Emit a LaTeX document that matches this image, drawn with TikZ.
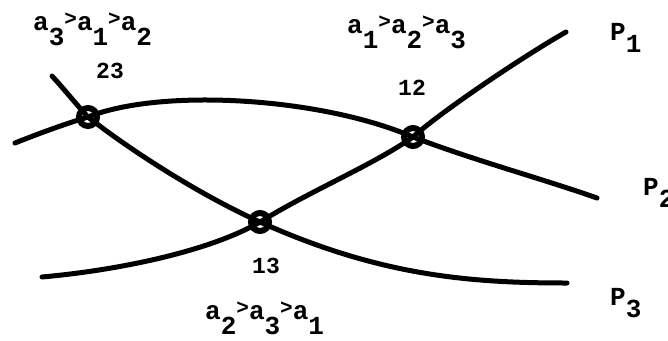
\documentclass[tikz,border=0pt]{standalone}
\usepackage{fontspec}
\setmonofont{Liberation Mono}
\newcommand{\gtsym}{\raisebox{5pt}{\fontsize{21}{21}\selectfont >}}
\newcommand{\lowd}[1]{\raisebox{-15pt}{#1}}
\newcommand{\ordlbl}[3]{a\lowd{#1}\gtsym a\lowd{#2}\gtsym a\lowd{#3}}
\newcommand{\plbl}[1]{P\raisebox{-12pt}{#1}}
\begin{document}
\begin{tikzpicture}[x=1pt,y=-1pt,
  curve/.style={line width=5pt,line cap=round},
  ring/.style={line width=6pt},
  lbl/.style={font=\ttfamily\bfseries\fontsize{26}{26}\selectfont,inner sep=0pt,anchor=base west},
  num/.style={font=\ttfamily\bfseries\fontsize{23}{23}\selectfont,inner sep=0pt}]
\useasboundingbox (0,0) rectangle (668,340);
% crossing points
\coordinate (n23) at (88,117);
\coordinate (n12) at (413,137);
\coordinate (n13) at (260,222);
% curve ends
\coordinate (p1s) at (42,277);
\coordinate (p1e) at (566,32);
\coordinate (p2s) at (15,143);
\coordinate (p2e) at (597,198);
\coordinate (p3s) at (52,76);
\coordinate (p3e) at (567,283);
% P1
\draw[curve] (p1s) .. controls (120,270) and (210,251) .. (n13)
  .. controls (310,191) and (373,165) .. (n12)
  .. controls (443,110) and (527,54) .. (p1e);
% P2
\draw[curve] (p2s) .. controls (40,133) and (65,124) .. (n23)
  .. controls (160,88) and (320,97) .. (n12)
  .. controls (473,160) and (540,178) .. (p2e);
% P3
\draw[curve] (p3s) .. controls (64,89) and (76,104) .. (n23)
  .. controls (130,150) and (200,195) .. (n13)
  .. controls (380,276) and (470,283) .. (p3e);
% rings
\foreach \n in {n23,n12,n13} \draw[ring] (\n) circle (9);
% labels
\node[lbl] (l23) at (33,30) {\ordlbl{3}{1}{2}};
\node[lbl] (l12) at (347,33) {\ordlbl{1}{2}{3}};
\node[lbl] (l13) at (205,319) {\ordlbl{2}{3}{1}};
\node[num] (t23) at (110,71) {23};
\node[num] (t12) at (412,88) {12};
\node[num] (t13) at (266,266) {13};
\node[lbl] (P1) at (610,40) {\plbl{1}};
\node[lbl] (P2) at (643,195) {\plbl{2}};
\node[lbl] (P3) at (610,305) {\plbl{3}};
\end{tikzpicture}
\end{document}
